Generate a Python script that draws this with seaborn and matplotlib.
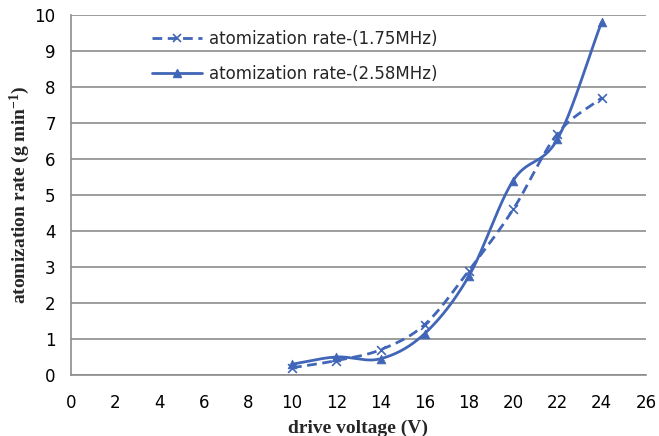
import numpy as np
import pandas as pd
import matplotlib
matplotlib.use("Agg")
import matplotlib.pyplot as plt
import seaborn as sns
from matplotlib.lines import Line2D

voltage = [10, 12, 14, 16, 18, 20, 22, 24]
rate_175 = [0.2, 0.4, 0.7, 1.4, 2.9, 4.6, 6.7, 7.7]
rate_258 = [0.3, 0.5, 0.45, 1.15, 2.75, 5.4, 6.55, 9.8]
label_175 = "atomization rate-(1.75MHz)"
label_258 = "atomization rate-(2.58MHz)"
x_ticks = list(range(0, 27, 2))
y_ticks = list(range(0, 11))

COLOR = "#4166B8"

sns.set_theme(style="white")
plt.rcParams["font.family"] = ["DejaVu Sans"]
plt.rcParams["mathtext.default"] = "regular"


def smooth(xs, ys, n=30):
    # Catmull-Rom curve through the given points (Excel-like smoothed line)
    x = np.asarray(xs, float)
    y = np.asarray(ys, float)
    px = np.concatenate([[2 * x[0] - x[1]], x, [2 * x[-1] - x[-2]]])
    py = np.concatenate([[2 * y[0] - y[1]], y, [2 * y[-1] - y[-2]]])
    outx, outy = [], []
    t = np.linspace(0, 1, n, endpoint=False)
    for i in range(1, len(px) - 2):
        for arr, out in ((px, outx), (py, outy)):
            p0, p1, p2, p3 = arr[i - 1], arr[i], arr[i + 1], arr[i + 2]
            out.extend(0.5 * ((2 * p1) + (-p0 + p2) * t
                              + (2 * p0 - 5 * p1 + 4 * p2 - p3) * t ** 2
                              + (-p0 + 3 * p1 - 3 * p2 + p3) * t ** 3))
    outx.append(x[-1])
    outy.append(y[-1])
    return np.array(outx), np.array(outy)


fig = plt.figure(figsize=(6.59, 4.36), dpi=100)
ax = fig.add_axes([0.1077, 0.140, 0.8723, 0.8256])

sx1, sy1 = smooth(voltage, rate_175)
sx2, sy2 = smooth(voltage, rate_258)
df1 = pd.DataFrame({"x": sx1, "y": sy1})
df2 = pd.DataFrame({"x": sx2, "y": sy2})

sns.lineplot(data=df1, x="x", y="y", sort=False, ax=ax, color=COLOR,
             linewidth=2.0, linestyle=(0, (3.5, 2)), estimator=None)
sns.lineplot(data=df2, x="x", y="y", sort=False, ax=ax, color=COLOR,
             linewidth=2.0, estimator=None)
sns.scatterplot(x=voltage, y=rate_175, ax=ax, marker="x", color=COLOR, s=40,
                linewidth=1.2, zorder=5)
sns.scatterplot(x=voltage, y=rate_258, ax=ax, marker="^", color=COLOR, s=40,
                edgecolor=COLOR, zorder=5)

ax.set_xlim(0, 26)
ax.set_ylim(0, 10)
ax.set_xticks(x_ticks)
ax.set_yticks(y_ticks)
ax.yaxis.grid(True, color="#8c8c8c", linewidth=1.2)
ax.xaxis.grid(False)
ax.set_axisbelow(True)
for s in ("top", "right"):
    ax.spines[s].set_visible(False)
for s in ("left", "bottom"):
    ax.spines[s].set_color("#8c8c8c")
    ax.spines[s].set_linewidth(1.2)
ax.tick_params(axis="both", which="major", direction="out", length=5,
               width=1.2, color="#8c8c8c", labelsize=12, labelcolor="black")
ax.tick_params(axis="x", pad=9)
ax.tick_params(axis="y", pad=6)

ax.set_xlabel("drive voltage (V)", family="Liberation Serif", fontweight="bold",
              fontsize=14, labelpad=5)
ax.set_ylabel("atomization rate (g min$^{-1}$)", family="Liberation Serif",
              fontweight="bold", fontsize=14, labelpad=2)

handles = [
    Line2D([], [], color=COLOR, linewidth=2.0, linestyle=(0, (3.5, 2)),
           marker="x", markersize=6, markeredgewidth=1.2),
    Line2D([], [], color=COLOR, linewidth=2.0, marker="^", markersize=6),
]
ax.legend(handles, [label_175, label_258], loc="upper left",
          bbox_to_anchor=(0.115, 1.0), frameon=False, fontsize=12,
          labelspacing=1.0, handlelength=3.0, handletextpad=0.4)

fig.savefig("out.png", dpi=100)
